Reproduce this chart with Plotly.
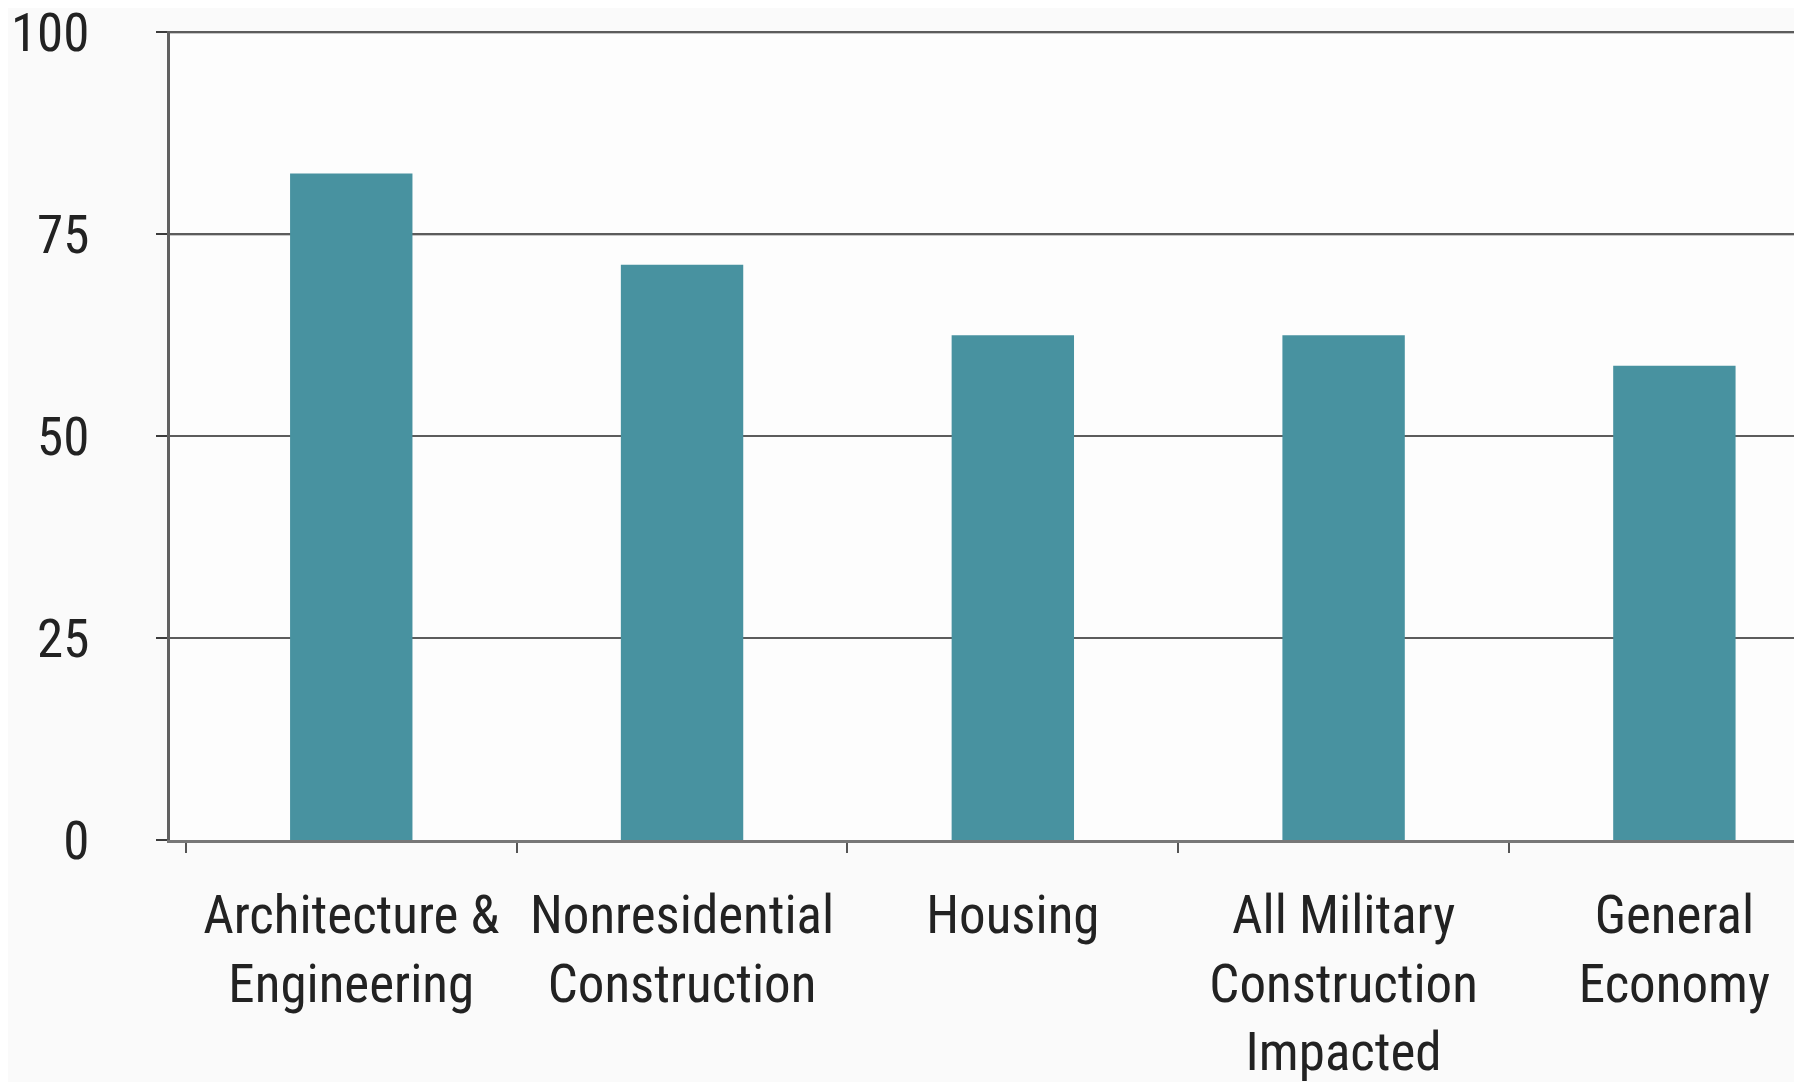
import plotly.graph_objects as go

categories = [
    "Architecture &<br>Engineering",
    "Nonresidential<br>Construction",
    "Housing",
    "All Military<br>Construction<br>Impacted",
    "General<br>Economy",
]
values = [82.5, 71.2, 62.5, 62.5, 58.7]
y_ticks = [0, 25, 50, 75, 100]
dark_grid = [75, 100]  # these two gridlines print darker in the original

font_family = "Liberation Sans Narrow, Roboto Condensed, Liberation Sans, Arial"

fig = go.Figure()
fig.add_trace(go.Bar(
    x=categories, y=values,
    marker=dict(color="#4892a0", line=dict(width=0)),
    width=0.37,
))

# page body adds an 8px offset, so margins are shifted by that
fig.update_layout(
    width=1802, height=1082,
    margin=dict(l=162, r=0, t=23, b=250, autoexpand=False),
    paper_bgcolor="#fafafa",
    plot_bgcolor="#fdfdfd",
    showlegend=False,
    font=dict(family=font_family, size=53, color="#222222"),
)

for v in dark_grid:
    fig.add_hline(y=v, line=dict(color="#262626", width=2), layer="below")

fig.update_xaxes(
    type="category",
    range=[-0.548, 4.41],
    automargin=False,
    showline=True, linecolor="#777777", linewidth=3,
    ticks="outside", tickson="boundaries", ticklen=10, tickwidth=2, tickcolor="#555555",
    ticklabelstandoff=26,
    showgrid=False,
)

fig.update_yaxes(
    range=[0, 100.15],
    tickvals=y_ticks,
    automargin=False,
    ticklabeloverflow="allow",
    showline=True, linecolor="#606060", linewidth=3,
    showgrid=True, gridcolor="#5c5c5c", gridwidth=2,
    zeroline=False,
    ticks="outside", ticklen=11, tickwidth=2, tickcolor="#3c3c3c",
    ticklabelstandoff=56,
)

fig.write_html("out.html")
